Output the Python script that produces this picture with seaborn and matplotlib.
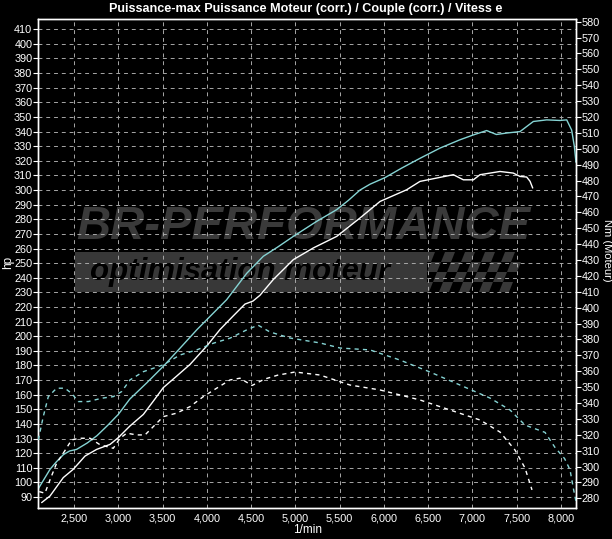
import numpy as np
import pandas as pd
import matplotlib
matplotlib.use("Agg")
import matplotlib.pyplot as plt
import seaborn as sns
from matplotlib.ticker import MultipleLocator, FuncFormatter
from matplotlib.patches import Rectangle, Polygon

# Puissance (hp) - courbe modifiée (cyan) et origine (blanc)
rpm_p_mod = [2090, 2150, 2230, 2300, 2380, 2450, 2530, 2650, 2760, 2880, 3000, 3130, 3320, 3510,
             3700, 3890, 4060, 4224, 4450, 4638, 4800, 4977, 5241, 5467, 5600, 5730, 5843, 6012,
             6200, 6407, 6633, 6859, 7000, 7160, 7270, 7386, 7537, 7687, 7838, 7988, 8064, 8120,
             8150, 8169]
hp_mod = [95, 101, 109, 114, 119, 121.5, 122.6, 127, 132, 139, 146.5, 157, 168, 179.5,
          192, 204.6, 215, 225, 243, 254.7, 261, 268.3, 278.6, 286.6, 293, 300, 304, 308.5,
          315, 321.7, 328.7, 334.4, 337.5, 340.7, 338, 339, 340, 346.9, 348, 347.6, 348, 341,
          330, 319]

rpm_p_ori = [2135, 2229, 2379, 2492, 2624, 2756, 2907, 3000, 3132, 3283, 3396, 3508, 3659, 3810,
             3998, 4149, 4300, 4431, 4520, 4600, 4751, 4977, 5203, 5467, 5730, 5956, 6257, 6407,
             6595, 6784, 6897, 7010, 7085, 7311, 7461, 7537, 7612, 7650, 7680]
hp_ori = [86.2, 90.7, 103.3, 109, 118, 122.6, 126, 130.6, 138.6, 146.5, 155.6, 164.8, 172.7, 180.7,
          193.2, 204.6, 214, 222, 224, 228, 238.8, 252.4, 260.4, 268.3, 280.9, 292.2, 300.2, 305.9,
          308.2, 310.5, 307, 307, 310.5, 312.7, 311.6, 309.3, 308.9, 306, 301.4]

# Couple (Nm)
rpm_c_mod = [2097, 2153, 2210, 2304, 2398, 2474, 2549, 2662, 2813, 2944, 3039, 3132, 3283, 3508,
             3697, 3886, 4073, 4262, 4450, 4578, 4713, 4939, 5278, 5504, 5843, 6182, 6520, 6859,
             7198, 7424, 7593, 7819, 7932, 8040, 8101, 8140, 8169]
nm_mod = [316.8, 331.4, 344, 349.3, 349.3, 346, 340.9, 340.9, 343, 344, 347.2, 354.5, 359.7, 364,
          370.2, 373.4, 377.6, 380.8, 386, 389, 384.7, 380.9, 377.8, 374.6, 373.4, 367, 359.5, 351.3,
          343.1, 335.6, 326.1, 321.5, 312, 305, 298, 286, 278]

rpm_c_ori = [2108, 2172, 2229, 2304, 2379, 2474, 2568, 2681, 2794, 2944, 3020, 3095, 3208, 3302,
             3415, 3508, 3659, 3810, 3960, 4111, 4262, 4375, 4510, 4650, 4800, 4996, 5278, 5617,
             5956, 6407, 6746, 7085, 7311, 7480, 7593, 7672]
nm_ori = [284.2, 283.2, 291.6, 302.1, 308.4, 316.8, 317.8, 317.8, 313.7, 311.5, 317.8, 321, 319.9, 319.9,
          326.2, 331.4, 333.6, 337.7, 344, 349.3, 354.5, 355.6, 351, 355, 357.5, 359.5, 357.6, 351.3,
          348.2, 341.9, 335.6, 329.3, 321.7, 310.4, 299.1, 285.3]

hp_ticks = list(range(90, 420, 10))
nm_ticks = list(range(280, 590, 10))
rpm_ticks = list(range(2500, 8500, 500))

CYAN = '#86d4d4'
W, H = 612, 539

sns.set_style("dark")
plt.rcParams['font.family'] = ['Liberation Sans Narrow', 'Liberation Sans', 'DejaVu Sans']

fig = plt.figure(figsize=(W / 100, H / 100), dpi=100, facecolor='black')
ax = fig.add_axes([38.3 / W, 1 - 508 / H, (576 - 38.3) / W, (508 - 19.3) / H])
ax.set_facecolor('black')
ax2 = ax.twinx()

df_pm = pd.DataFrame({'rpm': rpm_p_mod, 'val': hp_mod})
df_po = pd.DataFrame({'rpm': rpm_p_ori, 'val': hp_ori})
df_cm = pd.DataFrame({'rpm': rpm_c_mod, 'val': nm_mod})
df_co = pd.DataFrame({'rpm': rpm_c_ori, 'val': nm_ori})

sns.lineplot(data=df_pm, x='rpm', y='val', ax=ax, color=CYAN, lw=1.0, legend=False, zorder=3)
sns.lineplot(data=df_po, x='rpm', y='val', ax=ax, color='white', lw=1.0, legend=False, zorder=3)
sns.lineplot(data=df_cm, x='rpm', y='val', ax=ax2, color=CYAN, lw=1.0, legend=False,
             dashes=False, linestyle=(0, (3, 3)), zorder=3)
sns.lineplot(data=df_co, x='rpm', y='val', ax=ax2, color='white', lw=1.0, legend=False,
             dashes=False, linestyle=(0, (3, 3)), zorder=3)

ax.set_xlim(2097, 8169)
ax.set_ylim(82.5, 416.8)
ax2.set_ylim(273.9, 581.5)
ax.set_xticks(rpm_ticks)
ax.set_yticks(hp_ticks)
ax2.set_yticks(nm_ticks)
ax.xaxis.set_major_formatter(FuncFormatter(lambda v, p: f"{int(v):,}"))
ax.xaxis.set_minor_locator(MultipleLocator(100))

ax.grid(True, which='major', color='#a8a8a8', linestyle=(0, (4, 4)), linewidth=0.7)
ax.set_axisbelow(False)
ax2.grid(False)

for a in (ax, ax2):
    for s in a.spines.values():
        s.set_color('white')
        s.set_linewidth(1.0)
    a.tick_params(colors='white', direction='out', length=3.5, width=0.8, labelsize=7.8, pad=0.8)
ax.tick_params(axis='x', which='minor', colors='white', length=2, width=0.6)

ax.set_xlabel('1/min', color='white', fontsize=8.5)
ax.xaxis.set_label_coords(0.5, -0.045)
ax.xaxis.label.set_verticalalignment('center')
ax.set_ylabel('hp', color='white', fontsize=8.5)
ax.yaxis.set_label_coords(-0.057, 0.503)
ax.yaxis.label.set_verticalalignment('center')
ax2.set_ylabel('Nm (Moteur)', color='white', fontsize=8, rotation=270)
ax2.yaxis.set_label_coords(1.057, 0.527)
ax2.yaxis.label.set_verticalalignment('center')

fig.text(0.5, 1 - 9 / H, 'Puissance-max Puissance Moteur (corr.) / Couple (corr.) / Vitess e',
         color='white', fontsize=9.1, fontweight='bold', ha='center', va='center')

# filigrane BR-PERFORMANCE
tf = fig.transFigure
ax.text(303 / W, 1 - 227 / H, 'BR-PERFORMANCE', transform=tf, color='#3a3a3a',
        fontsize=34, fontweight='bold', fontstyle='italic', family='Liberation Sans',
        ha='center', va='center', zorder=1)
ax.add_patch(Rectangle((75 / W, 1 - 292 / H), (427 - 75) / W, 40 / H, transform=tf,
                       facecolor='#383838', edgecolor='none', zorder=1))
ax.text(240 / W, 1 - 272 / H, 'optimisation moteur', transform=tf, color='black',
        fontsize=22.5, fontweight='bold', fontstyle='italic', family='Liberation Sans',
        ha='center', va='center', zorder=1.2)
# drapeau à damier
cell = 10
for i in range(4):
    for j in range(10):
        if (i + j) % 2:
            continue
        x0 = 425 + j * cell - i * 4
        y0 = 252 + i * cell
        pts = [(x0, y0), (x0 + cell, y0), (x0 + cell - 4, y0 + cell), (x0 - 4, y0 + cell)]
        ax.add_patch(Polygon([(px / W, 1 - py / H) for px, py in pts], closed=True,
                             transform=tf, facecolor='#383838', edgecolor='none', zorder=1))

fig.savefig('out.png', dpi=100, facecolor='black')
